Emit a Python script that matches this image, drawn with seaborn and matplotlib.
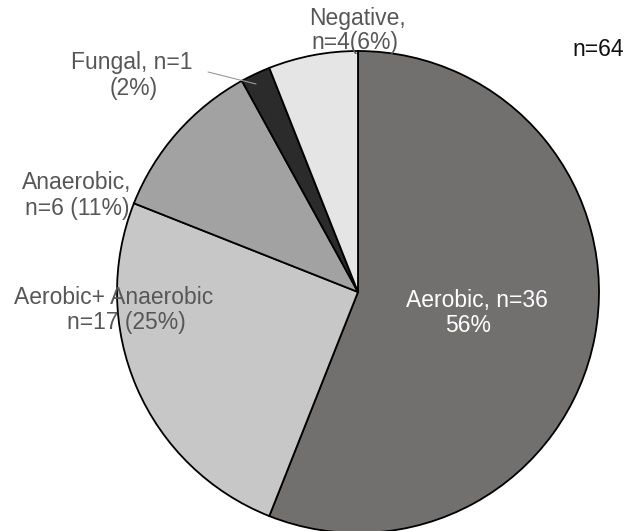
import matplotlib
matplotlib.use("Agg")
import matplotlib.pyplot as plt
import seaborn as sns

sns.set_theme(style="white")
plt.rcParams['font.family'] = ['Liberation Sans', 'DejaVu Sans']

categories = ["Aerobic", "Aerobic+ Anaerobic", "Anaerobic", "Fungal", "Negative"]
counts = [36, 17, 6, 1, 4]
percents = [56, 25, 11, 2, 6]
colors = ["#726f6f", "#c7c7c7", "#a2a2a2", "#2b2b2b", "#e5e5e5"]
total_n = 64

W, H = 640, 531
fig = plt.figure(figsize=(W / 100, H / 100), dpi=100)
ax = fig.add_axes([0, 0, 1, 1])

cx, cy, r = 358, H - 292, 241
ax.pie(percents, colors=colors, startangle=90, counterclock=False,
       center=(cx, cy), radius=r, frame=True,
       wedgeprops=dict(edgecolor="black", linewidth=1.3))
ax.set_xlim(0, W)
ax.set_ylim(0, H)
ax.set_aspect("equal")
ax.axis("off")

tc = "#575757"
fs = 16.5
def lab(x, y, s, color=tc, ha="center", size=fs):
    ax.text(x, H - y, s, color=color, ha=ha, va="center", fontsize=size)

lab(357, 18, f"{categories[4]},")
lab(355, 43, f"n={counts[4]}({percents[4]}%)")
lab(132, 63, f"{categories[3]}, n={counts[3]}")
lab(134, 88, f"({percents[3]}%)")
ax.plot([208, 256], [H - 72, H - 84], color="#999999", lw=0.8)
lab(77, 183, f"{categories[2]},")
lab(77, 208, f"n={counts[2]} ({percents[2]}%)")
lab(114, 298, categories[1])
lab(126, 323, f"n={counts[1]} ({percents[1]}%)")
lab(477, 300, f"{categories[0]}, n={counts[0]}", color="white")
lab(468, 326, f"{percents[0]}%", color="white")
lab(598, 50, f"n={total_n}", color="#111111", size=16.5)

fig.savefig("out.png", dpi=100)
